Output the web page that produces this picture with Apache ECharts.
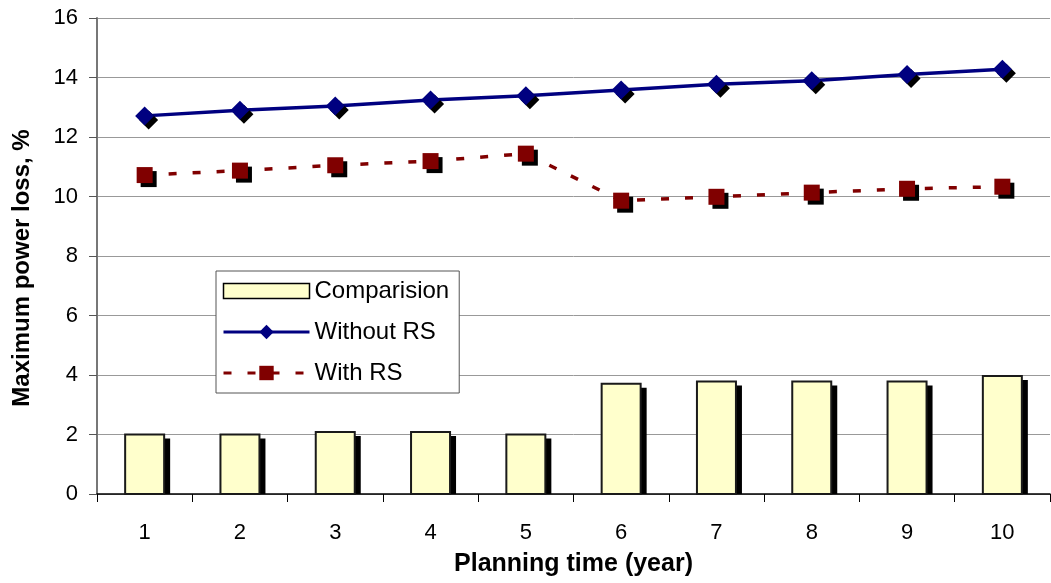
<!DOCTYPE html>
<html>
<head>
<meta charset="utf-8">
<script src="https://cdn.jsdelivr.net/npm/echarts@6/dist/echarts.min.js"></script>
<style>
  html, body { margin: 0; padding: 0; background: #fff; }
  #main { width: 1051px; height: 583px; }
</style>
</head>
<body>
<div id="main"></div>
<script>
var years = ['1', '2', '3', '4', '5', '6', '7', '8', '9', '10'];
var comparision = [2.0, 2.0, 2.08, 2.08, 2.0, 3.71, 3.78, 3.78, 3.78, 3.97];
var withoutRS = [12.71, 12.9, 13.04, 13.24, 13.39, 13.58, 13.77, 13.89, 14.1, 14.28];
var withRS = [10.72, 10.87, 11.05, 11.19, 11.44, 9.86, 9.99, 10.13, 10.26, 10.33];

var chartDom = document.getElementById('main');
var myChart = echarts.init(chartDom);

var font = 'Liberation Sans, Arial, sans-serif';
var BAR_W = 39;

// 柱子 + 右下方黑色阴影
function renderBar(params, api) {
  var idx = api.value(0);
  var top = api.coord([idx, api.value(1)]);
  var base = api.coord([idx, 0]);
  var h = base[1] - top[1];
  return {
    type: 'group',
    children: [
      {
        type: 'rect',
        shape: { x: top[0] - BAR_W / 2 + 6, y: top[1] + 4, width: BAR_W, height: h - 4 },
        style: { fill: '#000' }
      },
      {
        type: 'rect',
        shape: { x: top[0] - BAR_W / 2, y: top[1], width: BAR_W, height: h },
        style: { fill: '#FFFFCC', stroke: '#1a1a1a', lineWidth: 2 }
      }
    ]
  };
}

var option = {
  animation: false,
  textStyle: { fontFamily: font },
  grid: {
    left: 97,
    right: 1,
    top: 18,
    bottom: 89
  },
  // 图例
  legend: {
    orient: 'vertical',
    left: 216,
    top: 271,
    padding: [8, 10, 8, 6],
    itemGap: 17,
    itemWidth: 86,
    itemHeight: 18,
    backgroundColor: '#fff',
    borderColor: '#555',
    borderWidth: 1,
    borderRadius: 0,
    textStyle: { fontSize: 24, color: '#000', fontFamily: font },
    data: [
      {
        name: 'Comparision',
        icon: 'path://M0,0H80V14H0Z',
        itemStyle: { color: '#FFFFCC', borderColor: '#000', borderWidth: 1.5 }
      },
      { name: 'Without RS', lineStyle: { width: 3 } },
      { name: 'With RS', lineStyle: { width: 3 } }
    ]
  },
  xAxis: {
    type: 'category',
    data: years,
    boundaryGap: true,
    name: 'Planning time (year)',
    nameLocation: 'middle',
    nameGap: 58,
    nameTextStyle: { fontSize: 25, fontWeight: 'bold', color: '#000' },
    axisLine: { lineStyle: { color: '#000', width: 1.5 } },
    axisTick: { show: true, length: 8, lineStyle: { color: '#000' } },
    axisLabel: { fontSize: 22, color: '#000', margin: 28 }
  },
  yAxis: {
    type: 'value',
    min: 0,
    max: 16,
    interval: 2,
    name: 'Maximum power loss, %',
    nameLocation: 'middle',
    nameGap: 63,
    nameTextStyle: { fontSize: 24, fontWeight: 'bold', color: '#000', padding: [0, 24, 0, 0] },
    axisLine: { show: true, lineStyle: { color: '#777', width: 2 } },
    axisTick: { show: true, length: 8, lineStyle: { color: '#555' } },
    axisLabel: { fontSize: 22, color: '#000', margin: 19 },
    splitLine: { lineStyle: { color: '#999', width: 1 } }
  },
  series: [
    {
      name: 'Comparision',
      type: 'custom',
      renderItem: renderBar,
      data: comparision.map(function (v, i) { return [i, v]; }),
      encode: { x: 0, y: 1 },
      itemStyle: { color: '#FFFFCC' },
      z: 2
    },
    {
      name: 'Without RS',
      type: 'line',
      data: withoutRS,
      symbol: 'diamond',
      symbolSize: 19,
      z: 3,
      lineStyle: { color: '#000080', width: 3.5 },
      itemStyle: {
        color: '#000080',
        shadowColor: '#000',
        shadowOffsetX: 4,
        shadowOffsetY: 4,
        shadowBlur: 0
      }
    },
    {
      name: 'With RS',
      type: 'line',
      data: withRS,
      symbol: 'rect',
      symbolSize: 16,
      z: 3,
      lineStyle: { color: '#800000', width: 3.5, type: [8, 16] },
      itemStyle: {
        color: '#800000',
        shadowColor: '#000',
        shadowOffsetX: 4,
        shadowOffsetY: 4,
        shadowBlur: 0
      }
    }
  ]
};

option && myChart.setOption(option);
</script>
</body>
</html>
